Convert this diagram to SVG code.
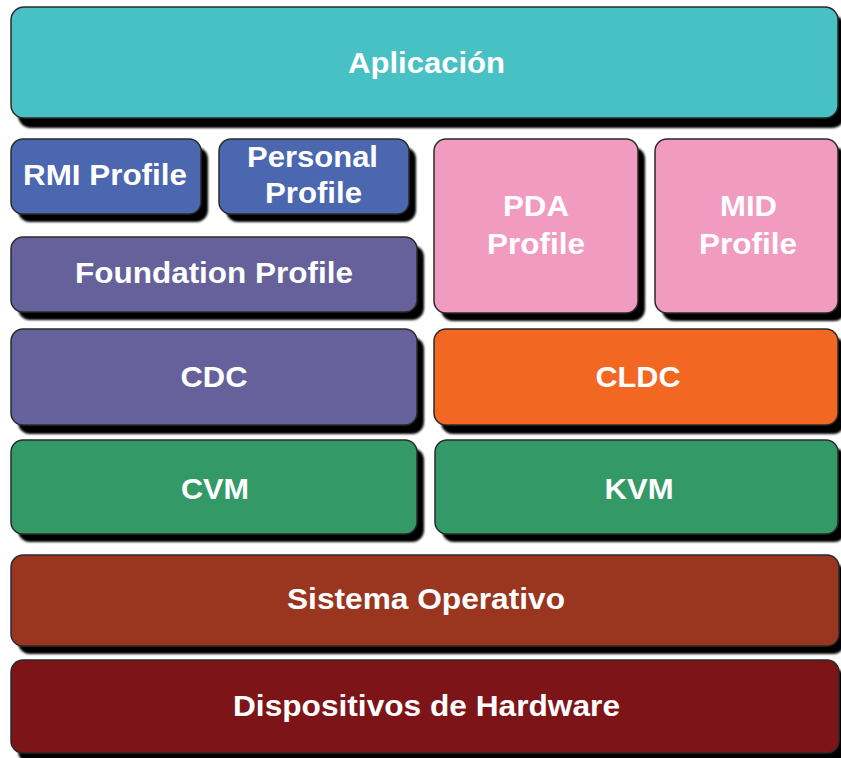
<svg xmlns="http://www.w3.org/2000/svg" width="841" height="758" viewBox="0 0 841 758">
<defs>
<filter id="soft" x="-5%" y="-5%" width="110%" height="110%"><feGaussianBlur stdDeviation="0.8"/></filter>
<style>
.sh{fill:#000;filter:url(#soft)}
.bx{stroke:#2a2a2a;stroke-width:1.5}
.t{font-family:"Liberation Sans",Arial,sans-serif;font-weight:bold;font-size:30px;fill:#fff;text-anchor:middle}
</style>
</defs>
<rect width="841" height="758" fill="#fff"/>
<g id="aplicacion">
<rect class="sh" x="18" y="15" width="827" height="113" rx="13"/>
<rect class="bx" x="11" y="7" width="827" height="111" rx="13" fill="#48c1c4"/>
<text class="t" x="426.5" y="73" textLength="157" lengthAdjust="spacingAndGlyphs">Aplicación</text>
</g>
<g id="rmi">
<rect class="sh" x="18" y="147" width="190" height="75" rx="12"/>
<rect class="bx" x="11" y="139" width="190" height="75" rx="12" fill="#4a67b0"/>
<text class="t" x="105" y="185" textLength="164" lengthAdjust="spacingAndGlyphs">RMI Profile</text>
</g>
<g id="personal">
<rect class="sh" x="226" y="147" width="190" height="75" rx="12"/>
<rect class="bx" x="219" y="139" width="190" height="75" rx="12" fill="#4a67b0"/>
<text class="t" x="312.5" y="167" textLength="131" lengthAdjust="spacingAndGlyphs">Personal</text>
<text class="t" x="313.5" y="203" textLength="97" lengthAdjust="spacingAndGlyphs">Profile</text>
</g>
<g id="foundation">
<rect class="sh" x="18" y="245" width="406" height="75" rx="12"/>
<rect class="bx" x="11" y="237" width="406" height="75" rx="12" fill="#66619a"/>
<text class="t" x="214" y="283" textLength="278" lengthAdjust="spacingAndGlyphs">Foundation Profile</text>
</g>
<g id="pda">
<rect class="sh" x="441" y="147" width="204" height="174" rx="12"/>
<rect class="bx" x="434" y="139" width="204" height="174" rx="12" fill="#f29bc1"/>
<text class="t" x="536" y="216" textLength="66" lengthAdjust="spacingAndGlyphs">PDA</text>
<text class="t" x="536" y="254" textLength="98" lengthAdjust="spacingAndGlyphs">Profile</text>
</g>
<g id="mid">
<rect class="sh" x="662" y="147" width="184" height="174" rx="12"/>
<rect class="bx" x="655" y="139" width="183" height="174" rx="12" fill="#f29bc1"/>
<text class="t" x="748.5" y="216" textLength="57" lengthAdjust="spacingAndGlyphs">MID</text>
<text class="t" x="748" y="254" textLength="98" lengthAdjust="spacingAndGlyphs">Profile</text>
</g>
<g id="cdc">
<rect class="sh" x="18" y="337" width="406" height="97" rx="12"/>
<rect class="bx" x="11" y="329" width="406" height="96" rx="12" fill="#66619a"/>
<text class="t" x="214" y="387" textLength="67" lengthAdjust="spacingAndGlyphs">CDC</text>
</g>
<g id="cldc">
<rect class="sh" x="441" y="337" width="404" height="97" rx="12"/>
<rect class="bx" x="434" y="329" width="404" height="96" rx="12" fill="#f26722"/>
<text class="t" x="638" y="387" textLength="85" lengthAdjust="spacingAndGlyphs">CLDC</text>
</g>
<g id="cvm">
<rect class="sh" x="18" y="448" width="406" height="94" rx="12"/>
<rect class="bx" x="11" y="440" width="406" height="94" rx="12" fill="#339a67"/>
<text class="t" x="215" y="499" textLength="68" lengthAdjust="spacingAndGlyphs">CVM</text>
</g>
<g id="kvm">
<rect class="sh" x="442" y="448" width="404" height="94" rx="12"/>
<rect class="bx" x="435" y="440" width="403" height="94" rx="12" fill="#339a67"/>
<text class="t" x="639" y="499" textLength="69" lengthAdjust="spacingAndGlyphs">KVM</text>
</g>
<g id="sistema">
<rect class="sh" x="18" y="563" width="827" height="91" rx="12"/>
<rect class="bx" x="11" y="555" width="828" height="91" rx="12" fill="#9a3520"/>
<text class="t" x="426" y="609" textLength="278" lengthAdjust="spacingAndGlyphs">Sistema Operativo</text>
</g>
<g id="hardware">
<rect class="sh" x="18" y="668" width="827" height="95" rx="12"/>
<rect class="bx" x="11" y="660" width="828" height="93" rx="12" fill="#7c1418"/>
<text class="t" x="426.5" y="716" textLength="387" lengthAdjust="spacingAndGlyphs">Dispositivos de Hardware</text>
</g>
<g id="connectors"/>
</svg>
